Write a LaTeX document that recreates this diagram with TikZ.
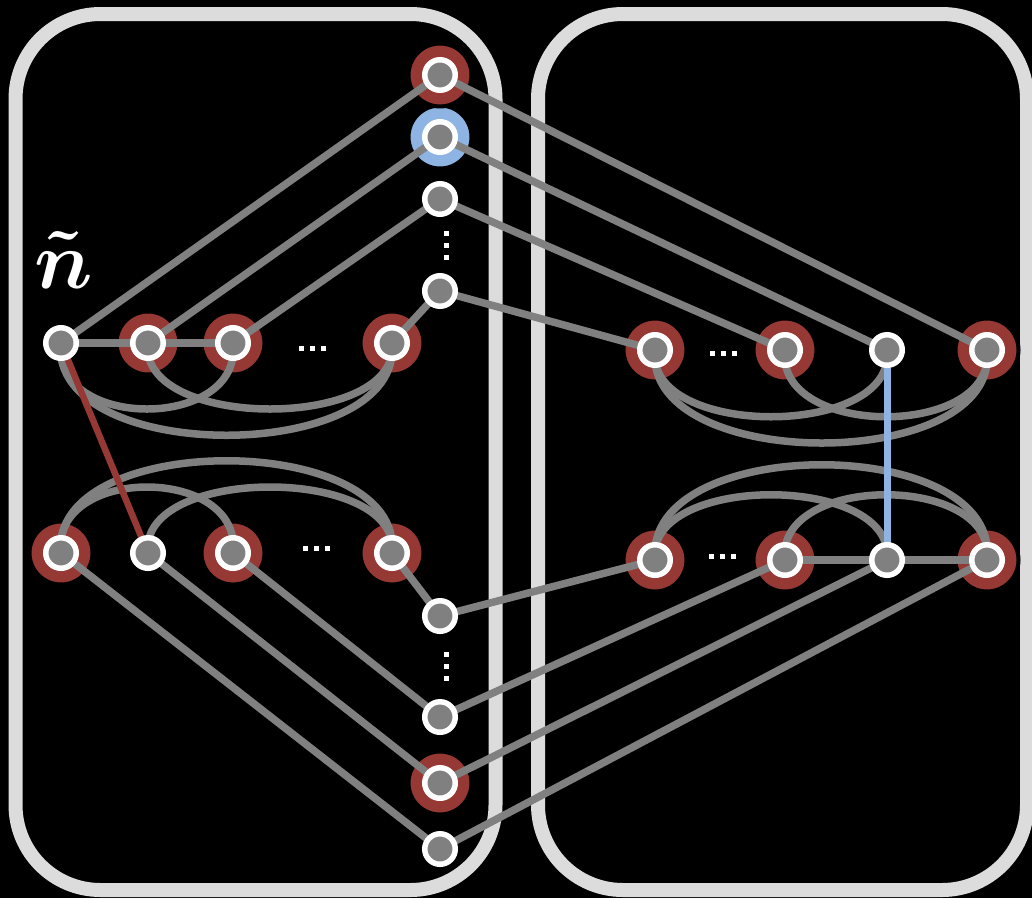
\documentclass[tikz,border=0pt]{standalone}
\usetikzlibrary{calc}
\definecolor{framegray}{RGB}{220,220,220}
\definecolor{edgegray}{RGB}{128,128,128}
\definecolor{halored}{RGB}{150,56,52}
\definecolor{haloblue}{RGB}{141,180,226}
\pgfdeclarelayer{frame}
\pgfdeclarelayer{halo}
\pgfdeclarelayer{wire}
\pgfsetlayers{frame,halo,wire,main}
\tikzset{
  vtx/.style={circle,draw=white,fill=edgegray,line width=5.5pt,minimum size=30.5pt,inner sep=0pt},
  wire/.style={draw=edgegray,line width=7.5pt},
  redwire/.style={draw=halored,line width=6.5pt},
  bluewire/.style={draw=haloblue,line width=7pt},
  box/.style={draw=framegray,line width=14pt,rounded corners=85pt},
  redhalo/.style={fill=halored,draw=black,line width=4pt},
  bluehalo/.style={fill=haloblue,draw=black,line width=4pt},
  sq/.style={fill=white}
}
% small square dots of an ellipsis
\newcommand{\dotsrow}[2]{\foreach \k in {-11,0,11}{\fill[sq] (#1+\k-2.5,#2-2.5) rectangle ++(5,5);}}
\newcommand{\dotscol}[2]{\foreach \k in {-12,0,12}{\fill[sq] (#1-2.5,#2+\k-2.5) rectangle ++(5,5);}}
\begin{document}
\begin{tikzpicture}[x=1pt,y=-1pt]
\useasboundingbox (0,0) rectangle (1032,898);

% vertices, left half
\node[vtx] (L1) at (440,75) {};
\node[vtx] (L2) at (440,137) {};
\node[vtx] (L3) at (440,199) {};
\node[vtx] (L4) at (440,291) {};
\node[vtx] (L5) at (440,616) {};
\node[vtx] (L6) at (440,717) {};
\node[vtx] (L7) at (440,783) {};
\node[vtx] (L8) at (440,849) {};
\node[vtx] (a) at (61,343) {};
\node[vtx] (b) at (148,343) {};
\node[vtx] (c) at (233,343) {};
\node[vtx] (d) at (392,343) {};
\node[vtx] (e) at (61,553) {};
\node[vtx] (f) at (148,553) {};
\node[vtx] (g) at (233,553) {};
\node[vtx] (h) at (392,553) {};
% vertices, right half
\node[vtx] (p) at (655,350) {};
\node[vtx] (q) at (785,350) {};
\node[vtx] (r) at (887,350) {};
\node[vtx] (s) at (987,350) {};
\node[vtx] (t) at (655,560) {};
\node[vtx] (u) at (785,560) {};
\node[vtx] (v) at (887,560) {};
\node[vtx] (w) at (987,560) {};

\node[text=white,anchor=base,inner sep=0pt,scale=3.3,font=\Huge\boldmath] (ntilde) at (64,288) {$\tilde{n}$};

\dotsrow{312}{348}
\dotsrow{316}{548}
\dotsrow{723}{353}
\dotsrow{722}{556}
\dotscol{446}{245}
\dotscol{446}{666}

\begin{pgfonlayer}{frame}
  \fill[black] (0,0) rectangle (1032,898);
  \draw[box] (15.5,14) rectangle (495.5,890);
  \draw[box] (538,14) rectangle (1027,890);
\end{pgfonlayer}

\begin{pgfonlayer}{halo}
  \filldraw[bluehalo] (L2.center) circle[radius=31.5];
  \foreach \n in {L1,L7,b,c,d,e,g,h,p,q,s,t,u,w}
    \filldraw[redhalo] (\n.center) circle[radius=31.5];
\end{pgfonlayer}

\begin{pgfonlayer}{wire}
  % rows
  \draw[wire] (a.center) -- (b.center) -- (c.center);
  \draw[wire] (u.center) -- (v.center) -- (w.center);
  % arcs below the upper left row
  \draw[wire] (a.center) .. controls ($(a.center)+(-10,88)$) and ($(c.center)+(10,88)$) .. (c.center);
  \draw[wire] (b.center) .. controls ($(b.center)+(-10,88)$) and ($(d.center)+(10,88)$) .. (d.center);
  \draw[wire] (a.center) .. controls ($(a.center)+(-12,123)$) and ($(d.center)+(12,123)$) .. (d.center);
  % arcs above the lower left row
  \draw[wire] (e.center) .. controls ($(e.center)+(-10,-88)$) and ($(g.center)+(10,-88)$) .. (g.center);
  \draw[wire] (f.center) .. controls ($(f.center)+(-10,-88)$) and ($(h.center)+(10,-88)$) .. (h.center);
  \draw[wire] (e.center) .. controls ($(e.center)+(-12,-123)$) and ($(h.center)+(12,-123)$) .. (h.center);
  % arcs below the upper right row
  \draw[wire] (p.center) .. controls ($(p.center)+(-10,89)$) and ($(r.center)+(10,89)$) .. (r.center);
  \draw[wire] (q.center) .. controls ($(q.center)+(-10,89)$) and ($(s.center)+(10,89)$) .. (s.center);
  \draw[wire] (p.center) .. controls ($(p.center)+(-12,124)$) and ($(s.center)+(14,124)$) .. (s.center);
  % arcs above the lower right row
  \draw[wire] (t.center) .. controls ($(t.center)+(-10,-87)$) and ($(v.center)+(10,-87)$) .. (v.center);
  \draw[wire] (u.center) .. controls ($(u.center)+(-10,-87)$) and ($(w.center)+(10,-87)$) .. (w.center);
  \draw[wire] (t.center) .. controls ($(t.center)+(-12,-127)$) and ($(w.center)+(14,-127)$) .. (w.center);
  % links to the middle column
  \draw[wire] (a.center) -- (L1.center);
  \draw[wire] (b.center) -- (L2.center);
  \draw[wire] (c.center) -- (L3.center);
  \draw[wire] (d.center) -- (L4.center);
  \draw[wire] (e.center) -- (L8.center);
  \draw[wire] (f.center) -- (L7.center);
  \draw[wire] (g.center) -- (L6.center);
  \draw[wire] (h.center) -- (L5.center);
  \draw[wire] (L1.center) -- (s.center);
  \draw[wire] (L2.center) -- (r.center);
  \draw[wire] (L3.center) -- (q.center);
  \draw[wire] (L4.center) -- (p.center);
  \draw[wire] (L5.center) -- (t.center);
  \draw[wire] (L6.center) -- (u.center);
  \draw[wire] (L7.center) -- (v.center);
  \draw[wire] (L8.center) -- (w.center);
  % coloured links
  \draw[redwire] (a.center) -- (f.center);
  \draw[bluewire] (r.center) -- (v.center);
\end{pgfonlayer}
\end{tikzpicture}
\end{document}
